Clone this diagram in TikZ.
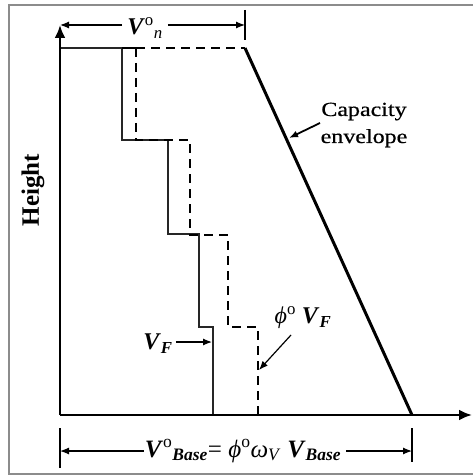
\documentclass[tikz,border=0pt]{standalone}
\usepackage{fontspec}
\setmainfont{Liberation Serif}
\newfontfamily\capfont[FakeStretch=1.2,FakeBold=0.6]{Liberation Serif}
\usetikzlibrary{arrows.meta}
\begin{document}
\begin{tikzpicture}[x=1pt,y=-1pt,
  axis/.style={line width=2.4pt,black},
  solidstep/.style={line width=1.5pt,black!85},
  dashstep/.style={line width=2.4pt,black,dash pattern=on 9pt off 6pt},
  envel/.style={line width=3pt,black},
  dimline/.style={line width=1.2pt,black},
  tip/.style={-{Latex[length=9pt,width=7pt]}},
  lbl/.style={inner sep=1pt,font=\fontsize{24}{28}\selectfont}]
\useasboundingbox (0,0) rectangle (472,476);
\draw[line width=2pt,black!45] (9,5) rectangle (475,474);
% named points
\coordinate (O) at (60,415);
\coordinate (Ytop) at (60,25);
\coordinate (Xend) at (472,415);
\coordinate (T0) at (60,48);
\coordinate (E0) at (245,48);
\coordinate (E1) at (412,415);
% solid step
\coordinate (s1) at (122,48);
\coordinate (s2) at (122,140);
\coordinate (s3) at (168,140);
\coordinate (s4) at (168,234);
\coordinate (s5) at (199,234);
\coordinate (s6) at (199,327);
\coordinate (s7) at (213,327);
\coordinate (s8) at (213,415);
% dashed step
\coordinate (d1) at (136,48);
\coordinate (d2) at (136,140);
\coordinate (d3) at (190,140);
\coordinate (d4) at (190,235);
\coordinate (d5) at (228,235);
\coordinate (d6) at (228,327);
\coordinate (d7) at (258,327);
\coordinate (d8) at (258,415);
\draw[solidstep] (T0) -- (s1) -- (s2) -- (s3) -- (s4) -- (s5) -- (s6) -- (s7) -- (s8);
\draw[line width=2.4pt] (s1) -- (d1);
\draw[dashstep] (d1) -- (E0);
\draw[dashstep] (d1) -- (d2) -- (d3) -- (d4) -- (d5) -- (d6) -- (d7) -- (d8);
\draw[envel] (E0) -- (E1);
% axes
\draw[axis,-{Latex[length=13pt,width=11pt]}] (O) -- (Xend);
\draw[axis,-{Latex[length=13pt,width=11pt]}] (O) -- (Ytop);
% top dimension
\coordinate (tk1) at (245,10);
\coordinate (tk2) at (245,40);
\draw[dimline] (tk1) -- (tk2);
\node[lbl] (vn) at (145,28) {\textbf{\textit{V}}\textsuperscript{o}\textsubscript{\textit{n}}};
\coordinate (vnL) at (60,25);
\coordinate (vnR) at (245,25);
\draw[dimline,tip] (vn.west |- vnL) ++(-4,0) -- (vnL);
\draw[dimline,tip] (vn.east |- vnR) ++(4,0) -- (vnR);
% bottom dimension
\coordinate (bt1) at (60,428);
\coordinate (bt2) at (60,468);
\coordinate (bt3) at (412,428);
\coordinate (bt4) at (412,462);
\draw[dimline] (bt1) -- (bt2);
\draw[dimline] (bt3) -- (bt4);
\coordinate (bL) at (60,451);
\coordinate (bR) at (412,451);
\node[lbl,font=\fontsize{25}{28}\selectfont] (vb) at (243,451) {\textbf{\textit{V}}\textsuperscript{o}\textsubscript{\textbf{\textit{Base}}}= \textit{ϕ}\textsuperscript{o}\textit{ω}\textsubscript{\textit{V}} \textbf{\textit{V}}\textsubscript{\textbf{\textit{Base}}}};
\draw[dimline,tip] (vb.west |- bL) -- (bL);
\draw[dimline,tip] (vb.east |- bR) ++(4,0) -- (bR);
% V_F label
\node[lbl] (vf) at (158,344) {\textbf{\textit{V}}\textsubscript{\textbf{\textit{F}}}};
\coordinate (vfA) at (212,342);
\draw[dimline,tip] (vf.east |- vfA) ++(2,0) -- (vfA);
% phi V_F label
\node[lbl] (pvf) at (303,318) {\textit{ϕ}\textsuperscript{o} \textbf{\textit{V}}\textsubscript{\textbf{\textit{F}}}};
\coordinate (pvfS) at (291,335);
\coordinate (pvfA) at (259,370);
\draw[dimline,tip] (pvfS) -- (pvfA);
% capacity envelope
\node[align=center,inner sep=1pt,font=\capfont\fontsize{20}{27}\selectfont] (cap) at (364,125) {Capacity\\envelope};
\coordinate (capS) at (320,123);
\coordinate (capA) at (289,138);
\draw[line width=1.8pt,tip] (capS) -- (capA);
% Height
\node[rotate=90,inner sep=1pt,font=\bfseries\fontsize{25}{28}\selectfont] (h) at (33,190) {Height};
\end{tikzpicture}
\end{document}
